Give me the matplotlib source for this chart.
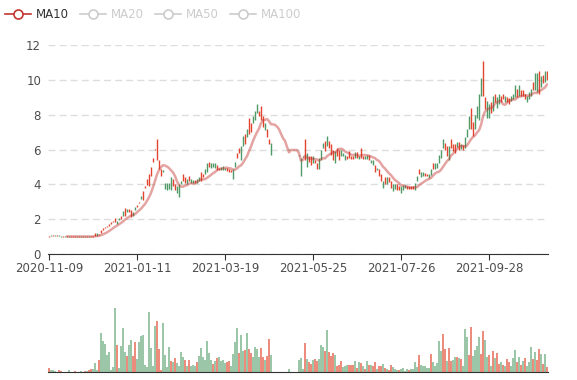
import matplotlib
matplotlib.use("Agg")

import matplotlib.pyplot as plt
from matplotlib.lines import Line2D
import numpy as np
import pandas as pd

# ── Data ──────────────────────────────────────────────────────────────────────
TICK_POS = [0, 44, 88, 132, 176, 220]
TICK_LABELS = ["2020-11-09", "2021-01-11", "2021-03-19",
               "2021-05-25", "2021-07-26", "2021-09-28"]

# daily open / close, None = suspended day
OPEN = [
    0.98, 1.05, 1.03, 1.05, 1.02, 1.04, 1.01, 0.96, 1.01, 0.97,
    1.02, 0.96, 0.97, 0.97, 1.03, 0.97, 1.03, 0.97, 1.02, 0.97,
    1.03, 0.98, 0.98, 1.01, 1.22, 1.08, 1.20, 1.35, 1.48, 1.55,
    1.60, 1.75, 1.82, 1.82, 1.92, 2.05, 2.00, 2.45, 2.20, 2.60,
    2.40, 2.15, 2.40, 2.70, 2.70, 2.90, 3.33, 3.10, 3.80, 3.95,
    3.90, 4.50, 5.30, 5.95, 5.40, 4.90, 4.50, 4.85, 4.10, 4.05,
    4.10, 4.40, 3.90, 3.70, 3.90, 4.00, 4.20, 4.20, 4.10, 4.30,
    4.20, 4.30, 4.25, 4.05, 4.30, 4.40, 4.20, 4.40, 4.90, 5.20,
    5.00, 5.20, 5.20, 5.20, 4.80, 4.85, 5.00, 5.05, 4.95, 4.75,
    4.70, 4.70, 4.90, 5.30, 5.50, 5.80, 6.20, 6.80, 6.30, 7.20,
    6.90, 7.00, 7.90, 8.20, 8.60, 7.90, 7.70, 7.30, 7.50, 6.70,
    6.30, 6.40,
    None, None, None, None, None, None, None, None, 6.00, None,
    None, None, None,
    5.65, 5.50, 5.60, 5.40, 5.80, 5.30, 5.10, 5.60, 5.20, 4.90,
    5.50, 6.00, 6.40, 5.90, 6.80, 6.10, 5.70, 5.40, 5.90, 5.60,
    5.40, 6.00, 5.80, 5.70, 5.45, 5.50, 5.45, 5.45, 5.85, 5.50,
    5.65, 5.50, 5.45, 5.65, 5.70, 5.40, 5.40, 5.40, 4.70, 4.95,
    4.50, 4.20, 4.20, 4.00, 4.40, 4.15, 3.80, 4.00, 4.00, 3.70,
    3.70, 3.90, 3.95, 3.95, 3.75, 3.75, 3.75, 3.75, 4.10, 4.50,
    4.60, 4.70, 4.70, 4.50, 4.45, 4.60, 4.90, 4.90, 5.20, 5.20,
    5.70, 6.00, 6.60, 6.00, 5.60, 6.20, 6.10, 5.90, 5.80, 6.45,
    6.00, 6.30, 6.00, 6.70, 7.20, 7.90, 7.20, 6.80, 8.00, 8.50,
    9.20, 10.10, 9.10, 8.30, 8.80, 8.60, 8.10, 9.10, 8.70, 9.00,
    9.20, 8.70, 8.90, 9.10, 8.70, 8.60, 9.10, 9.20, 9.70, 9.00,
    9.70, 9.10, 9.10, 8.90, 9.10, 9.30, 9.50, 9.40, 10.40, 10.40,
    9.20, 10.20, 9.80, 10.50, 10.00,
]
CLOSE = [
    1.06, 1.03, 1.05, 1.02, 1.04, 1.01, 0.96, 1.01, 0.97, 1.02,
    0.97, 1.02, 1.03, 1.03, 0.97, 1.03, 0.97, 1.02, 0.97, 1.03,
    0.98, 1.02, 1.04, 1.20, 1.06, 1.15, 1.35, 1.48, 1.52, 1.62,
    1.72, 1.80, 1.88, 2.05, 1.70, 1.95, 2.20, 2.20, 2.62, 2.42,
    2.58, 2.50, 2.20, 2.50, 2.80, 3.00, 3.18, 3.60, 3.90, 4.30,
    4.60, 5.00, 5.50, 6.05, 6.60, 5.40, 4.90, 4.70, 3.75, 3.70,
    3.75, 3.70, 4.30, 4.00, 3.50, 3.30, 4.00, 4.60, 4.40, 4.00,
    4.50, 4.05, 4.05, 4.25, 4.05, 4.20, 4.70, 4.60, 4.60, 4.70,
    5.30, 4.95, 5.00, 4.95, 5.10, 4.95, 4.80, 4.80, 4.80, 4.95,
    4.90, 4.85, 4.30, 5.00, 5.80, 6.10, 5.40, 6.20, 6.90, 6.70,
    7.80, 7.50, 7.50, 7.70, 8.10, 8.20, 8.50, 7.90, 7.10, 7.20,
    6.60, 5.70,
    None, None, None, None, None, None, None, None, 5.97, None,
    None, None, None,
    5.60, 4.50, 5.55, 6.60, 5.00, 5.60, 5.60, 5.20, 5.40, 5.20,
    4.90, 5.40, 6.10, 6.50, 6.20, 6.50, 6.30, 6.00, 5.20, 6.10,
    6.00, 5.60, 5.60, 5.40, 5.65, 5.90, 5.65, 5.65, 5.50, 5.85,
    5.45, 6.10, 5.65, 5.45, 5.45, 5.70, 5.20, 5.10, 5.10, 4.80,
    4.90, 4.60, 3.80, 4.40, 4.00, 4.40, 4.20, 3.60, 3.75, 4.00,
    3.90, 3.50, 3.70, 3.80, 3.90, 3.90, 3.90, 3.90, 3.70, 4.20,
    4.90, 4.40, 4.45, 4.65, 4.60, 4.35, 4.55, 5.20, 4.90, 4.95,
    5.20, 5.50, 6.10, 6.40, 6.20, 5.40, 6.60, 6.30, 6.30, 6.15,
    6.45, 6.05, 6.25, 6.10, 6.70, 7.20, 8.40, 7.60, 7.20, 7.80,
    7.70, 9.10, 11.10, 9.00, 7.80, 7.80, 8.70, 8.20, 9.20, 8.40,
    8.60, 9.10, 9.20, 8.70, 9.00, 8.95, 8.80, 8.90, 9.00, 9.50,
    9.10, 9.40, 9.40, 9.20, 8.70, 8.90, 9.10, 9.90, 9.40, 9.30,
    10.50, 9.60, 10.30, 9.90, 10.50,
]
# traded volume (relative units)
VOLUME = [
    4, 2, 2, 1, 0.5, 2, 1, 0.5, 0.5, 0.5,
    2, 0.5, 0.5, 1.5, 0.5, 0.5, 1.5, 0.5, 1.5, 1,
    2, 3, 3, 9, 2, 12, 39, 31, 28, 17,
    20, 2, 5, 64, 27, 4, 26, 44, 20, 16,
    27, 32, 16, 30, 13, 30, 36, 37, 7, 5,
    60, 24, 6, 46, 51, 23, 2, 49, 17, 5,
    25, 11, 10, 14, 9, 6, 20, 15, 12, 6,
    12, 6, 7, 6, 10, 16, 24, 15, 12, 31,
    19, 12, 8, 11, 14, 15, 11, 12, 9, 10,
    11, 6, 18, 30, 44, 19, 37, 21, 22, 39,
    23, 19, 15, 25, 23, 15, 24, 15, 12, 16,
    33, 17,
    None, None, None, None, None, None, None, None, 3, None,
    None, None, None,
    12, 14, 3, 29, 13, 10, 8, 12, 13, 11,
    13, 27, 25, 21, 42, 20, 16, 19, 17, 6,
    7, 11, 5, 6, 7, 7, 7, 7, 11, 4,
    10, 9, 6, 3, 11, 7, 7, 6, 10, 3,
    6, 6, 8, 4, 3, 2, 7, 5, 3, 2,
    2, 3, 4, 1, 3, 2, 3, 3, 10, 5,
    17, 7, 6, 6, 4, 4, 18, 10, 6, 9,
    31, 21, 38, 23, 11, 24, 11, 12, 15, 15,
    14, 13, 6, 43, 35, 17, 45, 16, 22, 26,
    35, 18, 41, 32, 15, 17, 6, 21, 14, 19,
    8, 10, 7, 6, 13, 10, 6, 14, 22, 10,
    15, 7, 11, 14, 6, 10, 25, 13, 20, 12,
    23, 18, 8, 18, 5,
]
# volume bar colour: r = red, g = green, - = none
VOL_SIDE = (
    "rggggrrggggggrrgggrg" "rrgggrggggggggrggggr" "ggrrggggggggggrrrggg"
    "grgrggggrgrgggrggggg" "ggrgrggggrrggggrggrg" "rrggggrrgrrg"
    "--------g----"
    "gggrgrrgrrgggrgrrrgr" "rrgggrrrgrgrgrgrgrrg" "rrgrgrrgggrggggrgggg"
    "rgggggrgggggrrgrrggr" "grgggrrggggrrggrgrgr" "rgrgrrgggrgrgrgggrgr"
    "rgrgr"
)

MA_DAYS = 10

# ── Colours ───────────────────────────────────────────────────────────────────
UP_COLOR = "#e2442e"
DOWN_COLOR = "#4f9a66"
VOL_UP = "#ec8c7c"
VOL_DOWN = "#9cc6a8"
MA_COLOR = "#c23531"

W, H = 577, 380

fig = plt.figure(figsize=(W / 100, H / 100), dpi=100)
ax = fig.add_axes([48 / W, 126 / H, 500 / W, 209 / H])
vax = fig.add_axes([48 / W, 8 / H, 500 / W, 70 / H])

o = np.array(OPEN, dtype=float)
c = np.array(CLOSE, dtype=float)
x = np.arange(len(o))
ok = ~np.isnan(o)
up = c >= o

# candles, drawn as thin vertical strokes (about 1 px wide at this size)
lo = np.minimum(o, c)
hi = np.maximum(np.maximum(o, c), lo + 0.06)
ax.vlines(x[ok], lo[ok], hi[ok], colors=np.where(up[ok], UP_COLOR, DOWN_COLOR),
          linewidth=1.0, zorder=3)

# MA10 line
ma = pd.Series(c).rolling(MA_DAYS, min_periods=1).mean()
ma[:MA_DAYS - 1] = np.nan
ax.plot(x, ma, color=MA_COLOR, alpha=0.45, lw=1.8, zorder=4,
        solid_capstyle="round")

ax.set_xlim(-0.5, len(o) - 0.5)
ax.set_ylim(0, 12)
ax.set_yticks(range(0, 13, 2))
ax.grid(axis="y", color="#dddddd", linestyle=(0, (5, 3)), linewidth=1)
ax.set_axisbelow(True)
for s in ("top", "right", "left"):
    ax.spines[s].set_visible(False)
ax.spines["bottom"].set_color("#333333")
ax.set_xticks(TICK_POS)
ax.set_xticklabels(TICK_LABELS)
ax.tick_params(axis="x", length=4, color="#333333", labelsize=8.5,
               labelcolor="#4d4d4d", pad=2)
ax.tick_params(axis="y", length=0, labelsize=8.5, labelcolor="#4d4d4d", pad=5)

# volume panel
v = np.array(VOLUME, dtype=float)
vok = ~np.isnan(v)
vcol = np.array([VOL_UP if s == "r" else VOL_DOWN for s in VOL_SIDE])
vax.bar(x[vok], v[vok], width=0.6, linewidth=0, color=vcol[vok])
vax.set_xlim(-0.5, len(o) - 0.5)
vax.set_ylim(0, 70)
for s in ("top", "right", "left"):
    vax.spines[s].set_visible(False)
vax.spines["bottom"].set_color("#333333")
vax.set_xticks([])
vax.set_yticks([])

# legend (ECharts style, only MA10 active)
legend = [("MA10", MA_COLOR, "#333333"), ("MA20", "#cccccc", "#cccccc"),
          ("MA50", "#cccccc", "#cccccc"), ("MA100", "#cccccc", "#cccccc")]
ly = 1 - 14 / H
for k, (name, icol, tcol) in enumerate(legend):
    x0 = 5 + 75 * k
    fig.add_artist(Line2D([x0 / W, (x0 + 26) / W], [ly, ly], color=icol, lw=1.2))
    fig.add_artist(Line2D([(x0 + 13) / W], [ly], marker="o", markersize=6.5,
                          markerfacecolor="white", markeredgecolor=icol,
                          markeredgewidth=1.2))
    fig.text((x0 + 31) / W, ly, name, color=tcol, fontsize=8.5, va="center")

fig.savefig("out.png", dpi=100)
